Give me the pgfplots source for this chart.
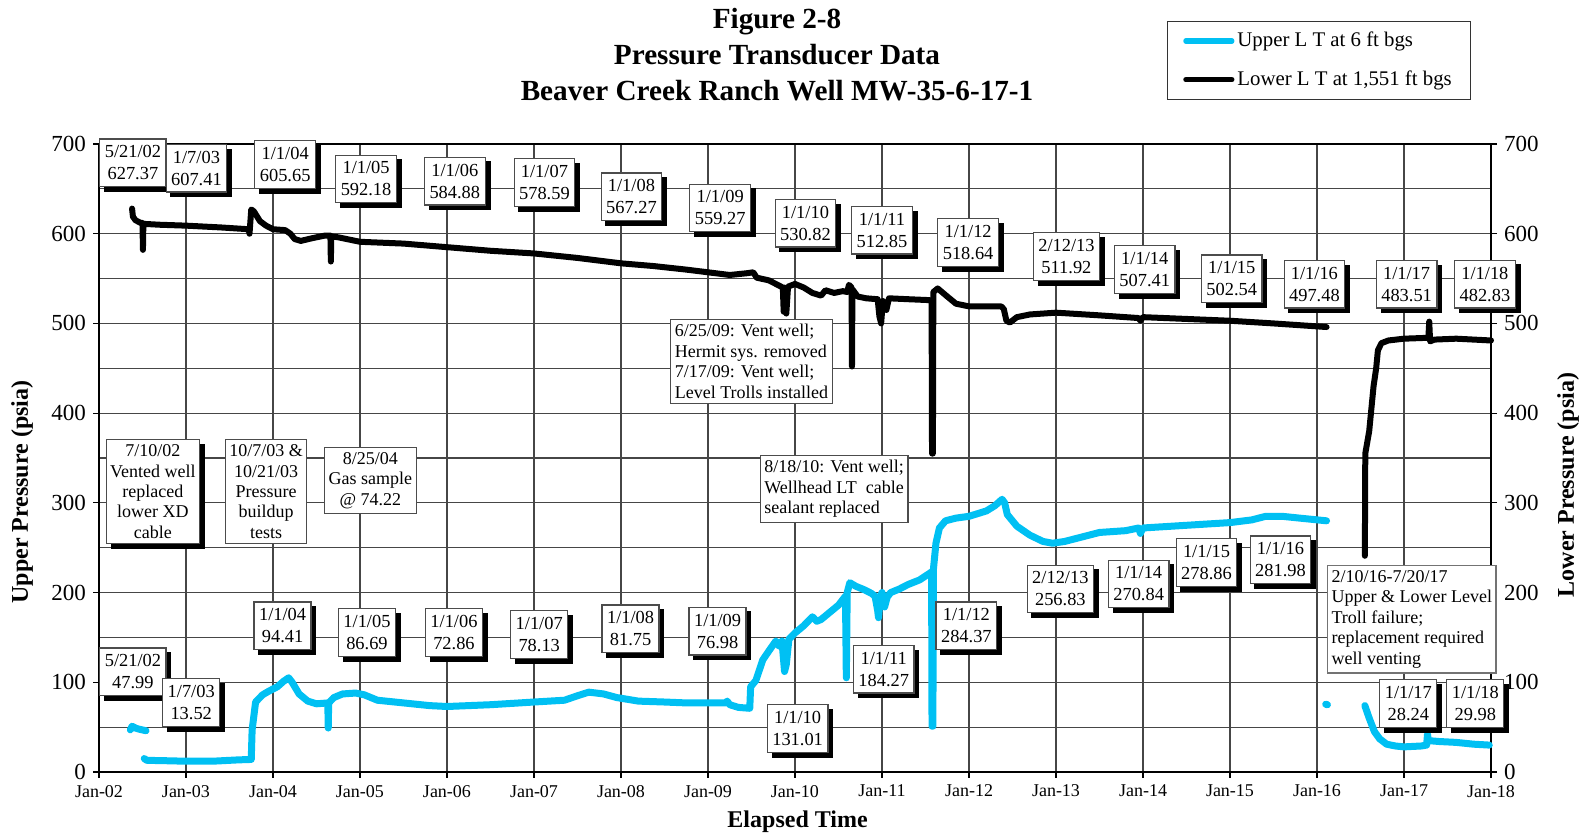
\documentclass[border=0pt]{standalone}
\usepackage{fontspec}
\setmainfont{Liberation Serif}
\usepackage{pgfplots}
\pgfplotsset{compat=1.18}
\definecolor{upc}{RGB}{0,192,243}
\definecolor{gridc}{RGB}{70,70,70}
\tikzset{
 vb/.style={draw=black!70, fill=white, line width=0.6bp, align=center, inner xsep=2.5bp, inner ysep=3.3bp,
   font=\fontsize{9.2bp}{11bp}\selectfont},
 vbs/.style={vb, draw=black, fill=black, xshift=2.4bp, yshift=-2.4bp},
 va/.style={draw=black!70, fill=white, line width=0.6bp, align=center, inner xsep=2bp, inner ysep=2.5bp,
   font=\fontsize{9bp}{10.2bp}\selectfont},
 vas/.style={va, draw=black, fill=black, xshift=2.6bp, yshift=-2.6bp},
 nb/.style={draw=black!70, fill=white, line width=0.6bp, inner xsep=2bp, inner ysep=2.5bp,
   font=\fontsize{9bp}{10.2bp}\selectfont},
}
\newcommand{\callout}[3]{\node[vbs] at (axis cs:#1) {\phantom{#2}\\\phantom{#3}}; \node[vb] at (axis cs:#1) {#2\\#3};}
\begin{document}
\begin{tikzpicture}
% right axis first, so the call-outs can cover it
\begin{axis}[
 at={(49.5bp,32.5bp)}, anchor=south west,
 width=696bp, height=314bp, scale only axis,
 xmin=2002, xmax=2018, ymin=0, ymax=700,
 axis x line=none, axis y line*=right,
 ytick={0,100,...,700}, tick align=outside, major tick length=3bp,
 axis line style={black, line width=1.3bp},
 tick style={black, line width=0.6bp},
 /pgf/number format/assume math mode=true,
 yticklabel style={font=\fontsize{11.5bp}{13bp}\selectfont},
]
\addplot[draw=none] coordinates {(2002,0) (2018,700)};
\end{axis}
\begin{axis}[
 at={(49.5bp,32.5bp)}, anchor=south west,
 width=696bp, height=314bp, scale only axis,
 xmin=2002, xmax=2018, ymin=0, ymax=700,
 xtick={2002,2003,...,2018},
 xticklabels={Jan-02,Jan-03,Jan-04,Jan-05,Jan-06,Jan-07,Jan-08,Jan-09,Jan-10,Jan-11,Jan-12,Jan-13,Jan-14,Jan-15,Jan-16,Jan-17,Jan-18},
 ytick={0,100,...,700}, minor ytick={50,150,...,650},
 tick pos=left,
 tick align=outside, major tick length=3bp, minor tick length=0pt,
 grid=both, major grid style={gridc, line width=0.6bp}, minor grid style={gridc, line width=0.6bp},
 axis line style={black, line width=0.7bp},
 tick style={black, line width=0.6bp},
 /pgf/number format/assume math mode=true,
 yticklabel style={font=\fontsize{11.5bp}{13bp}\selectfont},
 xticklabel style={font=\fontsize{9bp}{10bp}\selectfont},
 unbounded coords=jump,
 clip=false,
 legend style={at={(axis description cs:0.767,1.1965)}, anchor=north west, draw=black!80, line width=0.6bp,
   font=\fontsize{10.4bp}{12bp}\selectfont, row sep=7.5bp, inner xsep=8bp, inner ysep=4bp,
   nodes={inner sep=1.5bp}},
 legend cell align=left,
 legend image code/.code={\draw[#1, line width=2.6bp, line cap=round] (0bp,0bp) -- (23bp,0bp);},
]
\addplot[upc, line width=3.5bp, line join=round, line cap=round] coordinates {
(2002.36,47) (2002.38,51) (2002.42,49) (2002.45,48) (2002.54,46) (2002.54,nan)
(2002.52,15) (2002.55,13) (2002.8,12.5) (2003.0,12) (2003.3,12) (2003.6,13.5) (2003.75,14)
(2003.76,47) (2003.8,78) (2003.88,86) (2003.95,90) (2004.05,95) (2004.12,101) (2004.18,105)
(2004.22,100) (2004.3,87) (2004.4,79) (2004.5,76) (2004.63,77) (2004.635,49) (2004.64,77)
(2004.7,83) (2004.8,87) (2004.95,88) (2005.05,86) (2005.2,80) (2005.5,77) (2005.8,74)
(2006.0,73) (2006.5,75) (2007.0,78) (2007.35,80) (2007.5,85) (2007.63,89) (2007.8,87)
(2007.95,83) (2008.2,79) (2008.5,78) (2008.75,77) (2009.0,77) (2009.2,77) (2009.22,79)
(2009.25,75) (2009.35,72) (2009.48,71) (2009.49,95) (2009.55,102) (2009.63,125) (2009.7,135)
(2009.78,146) (2009.82,140) (2009.85,146) (2009.88,112) (2009.9,120) (2009.93,148)
(2010.0,155) (2010.1,163) (2010.2,173) (2010.25,168) (2010.3,170) (2010.4,178) (2010.5,186)
(2010.58,196) (2010.59,105) (2010.6,200) (2010.63,211) (2010.7,207) (2010.8,203)
(2010.88,199) (2010.92,196) (2010.95,180) (2010.96,172) (2010.98,195) (2011.0,200)
(2011.03,184) (2011.06,195) (2011.1,200) (2011.2,204) (2011.3,209) (2011.43,214)
(2011.54,221) (2011.57,223) (2011.575,51) (2011.585,51) (2011.59,225) (2011.62,255)
(2011.66,272) (2011.73,280) (2011.85,283) (2012.0,285) (2012.1,288) (2012.2,291)
(2012.3,297) (2012.38,304) (2012.41,300) (2012.44,287) (2012.55,274) (2012.7,264)
(2012.85,257) (2012.96,255) (2013.1,257) (2013.3,262) (2013.5,267) (2013.8,269)
(2013.95,272) (2013.97,266) (2014.0,272) (2014.5,275) (2015.0,278) (2015.25,281)
(2015.41,285) (2015.6,285) (2015.8,283) (2016.11,280) (2016.11,nan)
(2016.10,75.5) (2016.12,75) (2016.12,nan)
(2016.55,74) (2016.6,60) (2016.66,45) (2016.72,37) (2016.8,31) (2016.9,29) (2017.0,28)
(2017.2,29) (2017.26,30) (2017.27,42) (2017.28,35) (2017.4,34) (2017.6,33) (2017.8,31)
(2017.98,30)
};
\addlegendentry{Upper L T at 6 ft bgs}
\addplot[black, line width=3bp, line join=round, line cap=round] coordinates {
(2002.38,628) (2002.39,619) (2002.42,615) (2002.48,612) (2002.50,612) (2002.505,582)
(2002.51,611) (2002.7,610) (2003.0,609) (2003.4,607) (2003.72,605) (2003.73,600)
(2003.75,627) (2003.78,625) (2003.85,614) (2003.92,609) (2004.0,605) (2004.14,604)
(2004.2,600) (2004.25,594) (2004.32,592) (2004.45,595) (2004.6,598) (2004.66,598)
(2004.665,569) (2004.67,597) (2004.75,596) (2004.9,593) (2005.0,591) (2005.5,589)
(2006.0,585) (2006.5,581) (2007.0,578) (2007.5,573) (2008.0,567) (2008.37,564)
(2008.75,560) (2009.0,557) (2009.25,554) (2009.45,556) (2009.52,557) (2009.56,551)
(2009.7,548) (2009.8,543) (2009.86,540) (2009.87,513) (2009.88,540) (2009.9,511)
(2009.92,541) (2010.0,544) (2010.1,540) (2010.2,534) (2010.3,531) (2010.35,537)
(2010.45,534) (2010.55,536) (2010.6,535) (2010.62,543) (2010.65,540) (2010.655,452)
(2010.66,538) (2010.72,530) (2010.82,528) (2010.95,527) (2010.97,508) (2010.99,500)
(2011.01,525) (2011.05,515) (2011.08,528) (2011.3,527) (2011.54,526) (2011.57,525)
(2011.575,355) (2011.585,355) (2011.59,535) (2011.64,539) (2011.75,530) (2011.85,522)
(2012.0,519) (2012.2,519) (2012.37,519) (2012.40,516) (2012.43,503) (2012.47,501)
(2012.55,507) (2012.7,510) (2013.0,512) (2013.5,509) (2013.95,506) (2013.97,503)
(2014.0,507) (2014.5,505) (2015.0,503) (2015.5,500) (2016.11,496) (2016.11,nan)
(2016.55,241) (2016.555,355) (2016.6,380) (2016.65,430) (2016.68,450) (2016.7,470)
(2016.74,478) (2016.82,481) (2017.0,483) (2017.28,484) (2017.29,502) (2017.30,480)
(2017.35,482) (2017.6,483) (2018.0,481)
};
\addlegendentry{Lower L T at 1,551 ft bgs}
% lower-series callouts
\callout{2002.39,679}{5/21/02}{627.37}
\callout{2003.12,673}{1/7/03}{607.41}
\callout{2004.14,677}{1/1/04}{605.65}
\callout{2005.07,661}{1/1/05}{592.18}
\callout{2006.09,658.6}{1/1/06}{584.88}
\callout{2007.12,657}{1/1/07}{578.59}
\callout{2008.12,641}{1/1/08}{567.27}
\callout{2009.14,628.7}{1/1/09}{559.27}
\callout{2010.12,611.7}{1/1/10}{530.82}
\callout{2011.0,604}{1/1/11}{512.85}
\callout{2011.99,590}{1/1/12}{518.64}
\callout{2013.12,574.6}{2/12/13}{511.92}
\callout{2014.02,560}{1/1/14}{507.41}
\callout{2015.02,549.7}{1/1/15}{502.54}
\callout{2015.97,543.8}{1/1/16}{497.48}
\callout{2017.03,543.8}{1/1/17}{483.51}
\callout{2017.93,543.8}{1/1/18}{482.83}
% upper-series callouts
\callout{2002.39,111.7}{5/21/02}{47.99}
\callout{2003.06,77.7}{1/7/03}{13.52}
\callout{2004.11,163}{1/1/04}{94.41}
\callout{2005.08,155.4}{1/1/05}{86.69}
\callout{2006.08,155.4}{1/1/06}{72.86}
\callout{2007.06,153}{1/1/07}{78.13}
\callout{2008.11,159.6}{1/1/08}{81.75}
\callout{2009.11,157}{1/1/09}{76.98}
\callout{2010.03,48.7}{1/1/10}{131.01}
\callout{2011.02,114.6}{1/1/11}{184.27}
\callout{2011.97,163}{1/1/12}{284.37}
\callout{2013.05,204}{2/12/13}{256.83}
\callout{2013.95,209.5}{1/1/14}{270.84}
\callout{2014.73,233.6}{1/1/15}{278.86}
\callout{2015.58,236.5}{1/1/16}{281.98}
\callout{2017.05,76.3}{1/1/17}{28.24}
\callout{2017.82,76.3}{1/1/18}{29.98}
% event annotations
\node[vas] at (axis cs:2002.62,312.5) {\phantom{7/10/02}\\\phantom{Vented well}\\\phantom{replaced}\\\phantom{lower XD}\\\phantom{cable}};
\node[va] at (axis cs:2002.62,312.5) {7/10/02\\Vented well\\replaced\\lower XD\\cable};
\node[nb, align=center] at (axis cs:2003.92,312.5) {10/7/03 \&\\10/21/03\\Pressure\\buildup\\tests};
\node[nb, align=center] at (axis cs:2005.12,325) {8/25/04\\Gas sample\\@ 74.22};
\node[nb, align=left] at (axis cs:2009.5,457.7) {6/25/09: Vent well;\\Hermit sys. removed\\7/17/09: Vent well;\\Level Trolls installed};
\node[nb, align=left] at (axis cs:2010.45,315.4) {8/18/10: Vent well;\\Wellhead LT\ \ cable\\sealant replaced};
\node[nb, align=left, draw=black!55] at (axis cs:2017.09,170.3) {2/10/16-7/20/17\\Upper \& Lower Level\\Troll failure;\\replacement required\\well venting};
\end{axis}
\node[font=\bfseries\fontsize{12bp}{14bp}\selectfont, rotate=90] at (11bp,172.5bp) {Upper Pressure (psia)};
\node[font=\bfseries\fontsize{12bp}{14bp}\selectfont, rotate=90] at (784bp,176bp) {Lower Pressure (psia)};
\node[font=\bfseries\fontsize{12bp}{14bp}\selectfont] at (398.8bp,7.6bp) {Elapsed Time};
\node[font=\bfseries\fontsize{14.6bp}{17.9bp}\selectfont, align=center, anchor=north, inner sep=0pt] at (388.5bp,414.5bp) {Figure 2-8\\Pressure Transducer Data\\Beaver Creek Ranch Well MW-35-6-17-1};
\pgfresetboundingbox
\useasboundingbox (0bp,0bp) rectangle (790.5bp,418.5bp);
\end{tikzpicture}
\end{document}
